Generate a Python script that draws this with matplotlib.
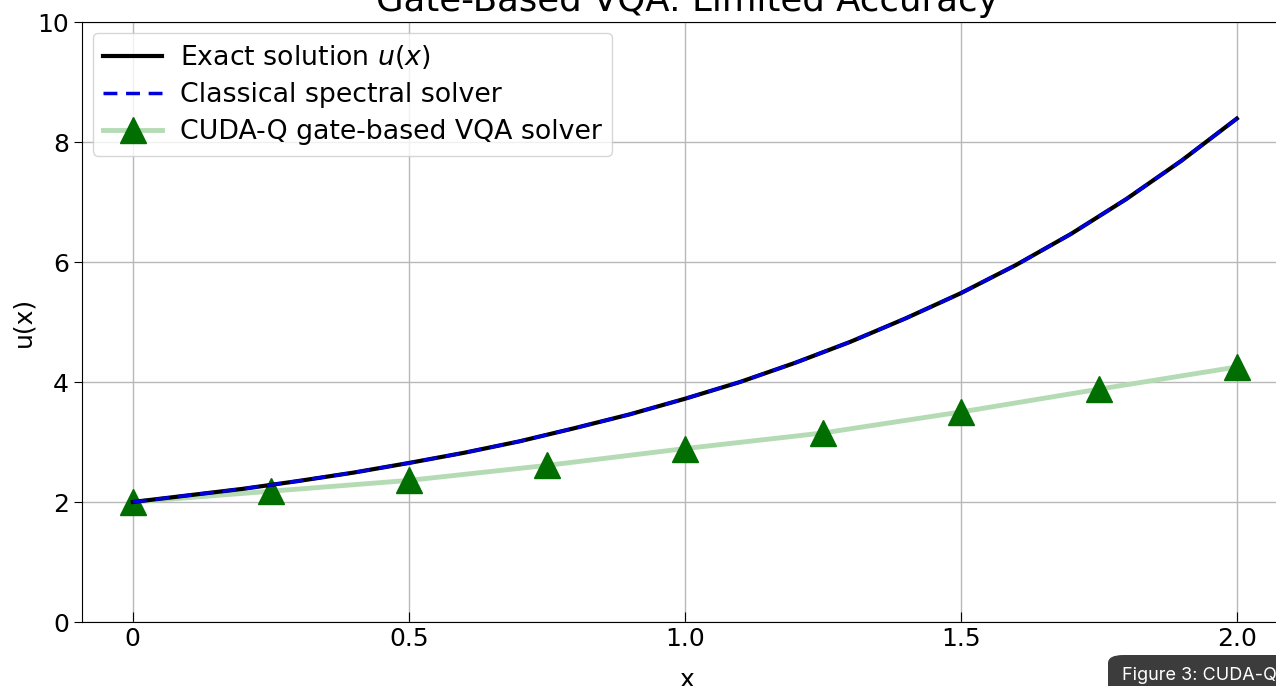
import matplotlib.pyplot as plt
from matplotlib.patches import FancyBboxPatch

# values
x_fine = [0.0, 0.1, 0.2, 0.3, 0.4, 0.5, 0.6, 0.7, 0.8, 0.9, 1.0,
          1.1, 1.2, 1.3, 1.4, 1.5, 1.6, 1.7, 1.8, 1.9, 2.0]
u_exact = [2.00, 2.11, 2.22, 2.35, 2.49, 2.65, 2.82, 3.01, 3.23, 3.46, 3.72,
           4.00, 4.32, 4.67, 5.06, 5.48, 5.95, 6.47, 7.05, 7.69, 8.39]
u_spectral = [2.00, 2.11, 2.22, 2.35, 2.49, 2.65, 2.82, 3.01, 3.23, 3.46, 3.72,
              4.00, 4.32, 4.67, 5.06, 5.48, 5.95, 6.47, 7.05, 7.69, 8.39]

x_vqa = [0.0, 0.25, 0.5, 0.75, 1.0, 1.25, 1.5, 1.75, 2.0]
u_vqa = [2.00, 2.18, 2.36, 2.61, 2.89, 3.15, 3.50, 3.88, 4.25]

xtick_vals = [0, 0.5, 1.0, 1.5, 2.0]
xtick_labels = ["0", "0.5", "1.0", "1.5", "2.0"]
ytick_vals = [0, 2, 4, 6, 8, 10]

W, H = 1276, 686
fig = plt.figure(figsize=(W / 100, H / 100), dpi=100)
# the reference is a screenshot: axes run past the right edge
ax = fig.add_axes([82 / W, 64 / H, 1210 / W, 600 / H])

ax.plot(x_fine, u_exact, color="black", lw=3, label="Exact solution $u(x)$", zorder=3)
ax.plot(x_fine, u_spectral, color="#0000dd", lw=2.5, ls=(0, (4, 2.5)),
        label="Classical spectral solver", zorder=4)
ax.plot(x_vqa, u_vqa, "-^", color="#b5dbb5", lw=3.5,
        markersize=19, markerfacecolor="#006e00", markeredgecolor="#006e00",
        label="CUDA-Q gate-based VQA solver", zorder=2)

ax.set_xlim(-0.092, 2.1)
ax.set_ylim(0, 10)
ax.set_xticks(xtick_vals)
ax.set_xticklabels(xtick_labels)
ax.set_yticks(ytick_vals)
ax.tick_params(labelsize=18)
ax.tick_params(axis="x", direction="in", length=7)
ax.tick_params(axis="y", length=6)
ax.grid(True, color="#b8b8b8", lw=1)

ax.set_xlabel("x", fontsize=18, labelpad=12)
ax.set_ylabel("u(x)", fontsize=18, labelpad=1)
ax.set_title("Gate-Based VQA: Limited Accuracy", fontsize=25.6, pad=8)

ax.legend(loc="upper left", fontsize=19.3, labelspacing=0.4, handlelength=2.2,
          handletextpad=0.65, borderaxespad=0.4, framealpha=0.8)

# screenshot tooltip overlay at the bottom right
fig.patches.append(FancyBboxPatch((1108 / W, -20 / H), 220 / W, 51 / H,
                                  boxstyle="round,pad=0,rounding_size=0.012",
                                  transform=fig.transFigure, facecolor="#3c3c3c",
                                  edgecolor="none", zorder=10))
fig.text(1122 / W, 6 / H, "Figure 3: CUDA-Q", color="white", fontsize=13,
         family="Inter", zorder=11)

fig.savefig("out.png", dpi=100)
